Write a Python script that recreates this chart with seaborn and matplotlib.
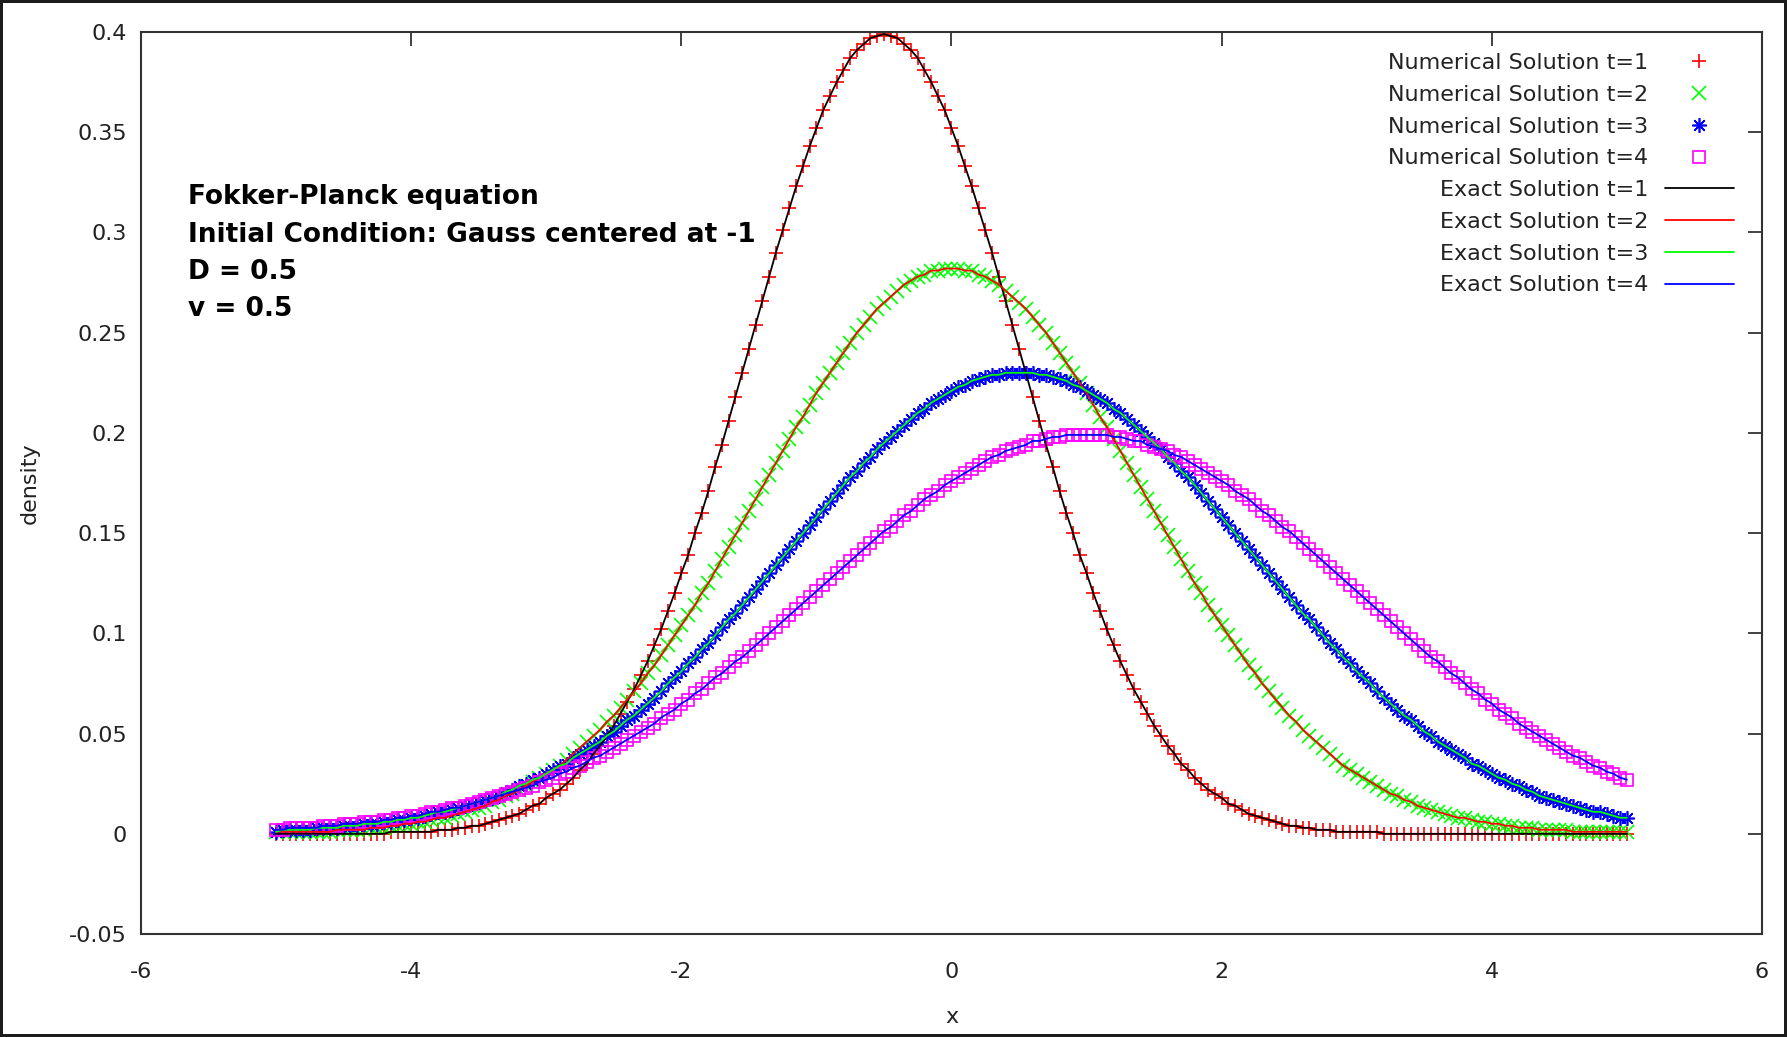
import numpy as np
import pandas as pd
import seaborn as sns
import matplotlib.pyplot as plt
from matplotlib.ticker import MultipleLocator, FuncFormatter

# sampling grid of the solver output
x_start, x_stop, x_step = -5.0, 5.0, 0.05
x = np.round(np.arange(x_start, x_stop + x_step / 2, x_step), 2)

# density values, one per marker (x = -5 ... 5)
dens_t1 = [
    0, 0, 0, 0, 0, 0, 0, 0, 0, 0,
    0, 0, 0, 0, 0, 0, 0, .001, .001, .001,
    .001, .001, .001, .001, .002, .002, .002, .003, .003, .004,
    .004, .005, .006, .007, .008, .009, .010, .012, .014, .015,
    .018, .020, .022, .025, .028, .032, .035, .040, .044, .049,
    .054, .060, .066, .072, .079, .086, .094, .102, .111, .120,
    .130, .139, .150, .160, .171, .183, .194, .206, .218, .230,
    .242, .254, .266, .278, .290, .301, .312, .323, .333, .343,
    .352, .361, .368, .375, .381, .387, .391, .394, .397, .398,
    .399, .398, .397, .394, .391, .387, .381, .375, .368, .361,
    .352, .343, .333, .323, .312, .301, .290, .278, .266, .254,
    .242, .230, .218, .206, .194, .183, .171, .160, .150, .139,
    .130, .120, .111, .102, .094, .086, .079, .072, .066, .060,
    .054, .049, .044, .040, .035, .032, .028, .025, .022, .020,
    .018, .015, .014, .012, .010, .009, .008, .007, .006, .005,
    .004, .004, .003, .003, .002, .002, .002, .001, .001, .001,
    .001, .001, .001, .001, 0, 0, 0, 0, 0, 0,
    0, 0, 0, 0, 0, 0, 0, 0, 0, 0,
    0, 0, 0, 0, 0, 0, 0, 0, 0, 0,
    0, 0, 0, 0, 0, 0, 0, 0, 0, 0,
    0,
]
dens_t2 = [
    .001, .001, .001, .001, .001, .001, .001, .001, .001, .002,
    .002, .002, .002, .002, .003, .003, .003, .004, .004, .005,
    .005, .006, .006, .007, .008, .008, .009, .010, .011, .012,
    .013, .014, .016, .017, .019, .020, .022, .024, .026, .028,
    .030, .032, .034, .037, .040, .043, .046, .049, .052, .056,
    .059, .063, .067, .071, .075, .080, .084, .089, .094, .099,
    .104, .109, .114, .120, .125, .131, .137, .143, .149, .155,
    .161, .167, .173, .179, .185, .191, .197, .203, .208, .214,
    .220, .225, .230, .235, .240, .245, .250, .254, .258, .262,
    .265, .268, .271, .274, .276, .278, .279, .281, .281, .282,
    .282,
    .282, .281, .281, .279, .278, .276, .274, .271, .268, .265,
    .262, .258, .254, .250, .245, .240, .235, .230, .225, .220,
    .214, .208, .203, .197, .191, .185, .179, .173, .167, .161,
    .155, .149, .143, .137, .131, .125, .120, .114, .109, .104,
    .099, .094, .089, .084, .080, .075, .071, .067, .063, .059,
    .056, .052, .049, .046, .043, .040, .037, .034, .032, .030,
    .028, .026, .024, .022, .020, .019, .017, .016, .014, .013,
    .012, .011, .010, .009, .008, .008, .007, .006, .006, .005,
    .005, .004, .004, .003, .003, .003, .002, .002, .002, .002,
    .002, .001, .001, .001, .001, .001, .001, .001, .001, .001,
]
dens_t3 = [
    .001, .002, .002, .002, .002, .002, .003, .003, .003, .003,
    .004, .004, .004, .005, .005, .005, .006, .006, .007, .007,
    .008, .008, .009, .010, .011, .011, .012, .013, .014, .015,
    .016, .017, .018, .019, .021, .022, .024, .025, .027, .028,
    .030, .032, .034, .035, .038, .040, .042, .044, .046, .049,
    .051, .054, .057, .059, .062, .065, .068, .071, .075, .078,
    .081, .085, .088, .092, .095, .099, .103, .107, .110, .114,
    .118, .122, .126, .130, .134, .138, .142, .146, .150, .154,
    .158, .162, .166, .170, .174, .178, .181, .185, .188, .192,
    .195, .198, .201, .204, .207, .210, .212, .215, .217, .219,
    .221, .223, .224, .226, .227, .228, .229, .229, .230, .230,
    .230,
    .230, .230, .229, .229, .228, .227, .226, .224, .223, .221,
    .219, .217, .215, .212, .210, .207, .204, .201, .198, .195,
    .192, .188, .185, .181, .178, .174, .170, .166, .162, .158,
    .154, .150, .146, .142, .138, .134, .130, .126, .122, .118,
    .114, .110, .107, .103, .099, .095, .092, .088, .085, .081,
    .078, .075, .071, .068, .065, .062, .059, .057, .054, .051,
    .049, .046, .044, .042, .040, .038, .035, .034, .032, .030,
    .028, .027, .025, .024, .022, .021, .019, .018, .017, .016,
    .015, .014, .013, .012, .011, .011, .010, .009, .008, .008,
]
dens_t4 = [
    .002, .002, .003, .003, .003, .003, .003, .004, .004, .004,
    .005, .005, .005, .006, .006, .006, .007, .007, .008, .008,
    .009, .009, .010, .011, .011, .012, .013, .013, .014, .015,
    .016, .017, .018, .019, .020, .021, .022, .023, .024, .026,
    .027, .028, .030, .031, .033, .034, .036, .038, .039, .041,
    .043, .045, .047, .049, .051, .053, .055, .058, .060, .062,
    .065, .067, .070, .072, .075, .078, .080, .083, .086, .088,
    .091, .094, .097, .100, .103, .106, .109, .112, .115, .118,
    .121, .124, .127, .130, .133, .136, .139, .142, .145, .148,
    .151, .153, .156, .159, .161, .164, .167, .169, .171, .174,
    .176, .178, .180, .182, .184, .186, .188, .189, .191, .192,
    .193, .194, .196, .196, .197, .198, .198, .199, .199, .199,
    .199,
    .199, .199, .199, .198, .198, .197, .196, .196, .194, .193,
    .192, .191, .189, .188, .186, .184, .182, .180, .178, .176,
    .174, .171, .169, .167, .164, .161, .159, .156, .153, .151,
    .148, .145, .142, .139, .136, .133, .130, .127, .124, .121,
    .118, .115, .112, .109, .106, .103, .100, .097, .094, .091,
    .088, .086, .083, .080, .078, .075, .072, .070, .067, .065,
    .062, .060, .058, .055, .053, .051, .049, .047, .045, .043,
    .041, .039, .038, .036, .034, .033, .031, .030, .028, .027,
]

times = [1, 2, 3, 4]
num_colors = ["#ff0000", "#00ff00", "#0000ff", "#ff00ff"]
num_markers = ["+", "x", (8, 2, 0), "s"]
num_sizes = [9.5, 9.5, 10.5, 8]
exact_colors = ["#000000", "#ff0000", "#00ff00", "#0000ff"]
notes = ["Fokker-Planck equation", "Initial Condition: Gauss centered at -1",
         "D = 0.5", "v = 0.5"]

df = pd.DataFrame({"x": np.tile(x, 4),
                   "density": np.concatenate([dens_t1, dens_t2, dens_t3, dens_t4]),
                   "t": np.repeat(times, len(x))})

sns.set_theme(style="white")
plt.rcParams["font.family"] = ["DejaVu Sans"]
plt.rcParams["axes.unicode_minus"] = False

fig = plt.figure(figsize=(17.87, 10.37), dpi=100)
fig.patch.set_edgecolor("#1c1c1c")
fig.patch.set_linewidth(4)
ax = fig.add_axes([0.0789, 0.0993, 0.9071, 0.8698])

# numerical solution (markers)
for t, c, m, ms in zip(times, num_colors, num_markers, num_sizes):
    d = df[df.t == t]
    sns.lineplot(data=d, x="x", y="density", ax=ax, color=c, linestyle="none",
                 marker=m, markersize=ms,
                 markerfacecolor="none" if m == "s" else c,
                 markeredgecolor=c, markeredgewidth=1.2,
                 label=f"Numerical Solution t={t}")

# exact solution (lines)
for t, c in zip(times, exact_colors):
    d = df[df.t == t]
    sns.lineplot(data=d, x="x", y="density", ax=ax, color=c, linewidth=1.3,
                 label=f"Exact Solution t={t}")

ax.set_xlim(-6, 6)
ax.set_ylim(-0.05, 0.4)
ax.xaxis.set_major_locator(MultipleLocator(2))
ax.yaxis.set_major_locator(MultipleLocator(0.05))
ax.xaxis.set_major_formatter(FuncFormatter(lambda v, p: "%g" % round(v, 3)))
ax.yaxis.set_major_formatter(FuncFormatter(lambda v, p: "%g" % round(v, 3)))

for s in ax.spines.values():
    s.set_color("#333333")
    s.set_linewidth(1.5)
ax.tick_params(axis="both", direction="in", top=True, right=True, length=10,
               width=1.3, color="#333333", labelsize=16, labelcolor="#222222")
ax.tick_params(axis="x", pad=20)
ax.tick_params(axis="y", pad=10)

ax.set_xlabel("x", fontsize=16, color="#222222")
ax.set_ylabel("density", fontsize=16, color="#222222")
ax.xaxis.set_label_coords(0.5, -0.081)
ax.yaxis.set_label_coords(-0.0626, 0.5)

for i, line in enumerate(notes):
    ax.text(0.0287, 0.809 - i * 0.04125, line, transform=ax.transAxes,
            family="DejaVu Sans", weight="bold", fontsize=19,
            color="black", va="baseline", ha="left")

handles, labels = ax.get_legend_handles_labels()
leg = ax.legend(handles, labels, loc="upper right", bbox_to_anchor=(0.9827, 0.9768),
                frameon=False, markerfirst=False, fontsize=16, handlelength=3.1,
                handletextpad=0.75, labelspacing=0.53, borderpad=0, borderaxespad=0)
for col in leg._legend_handle_box.get_children():
    col.align = "right"
for txt in leg.get_texts():
    txt.set_color("#222222")

fig.savefig("out.png", dpi=100)
